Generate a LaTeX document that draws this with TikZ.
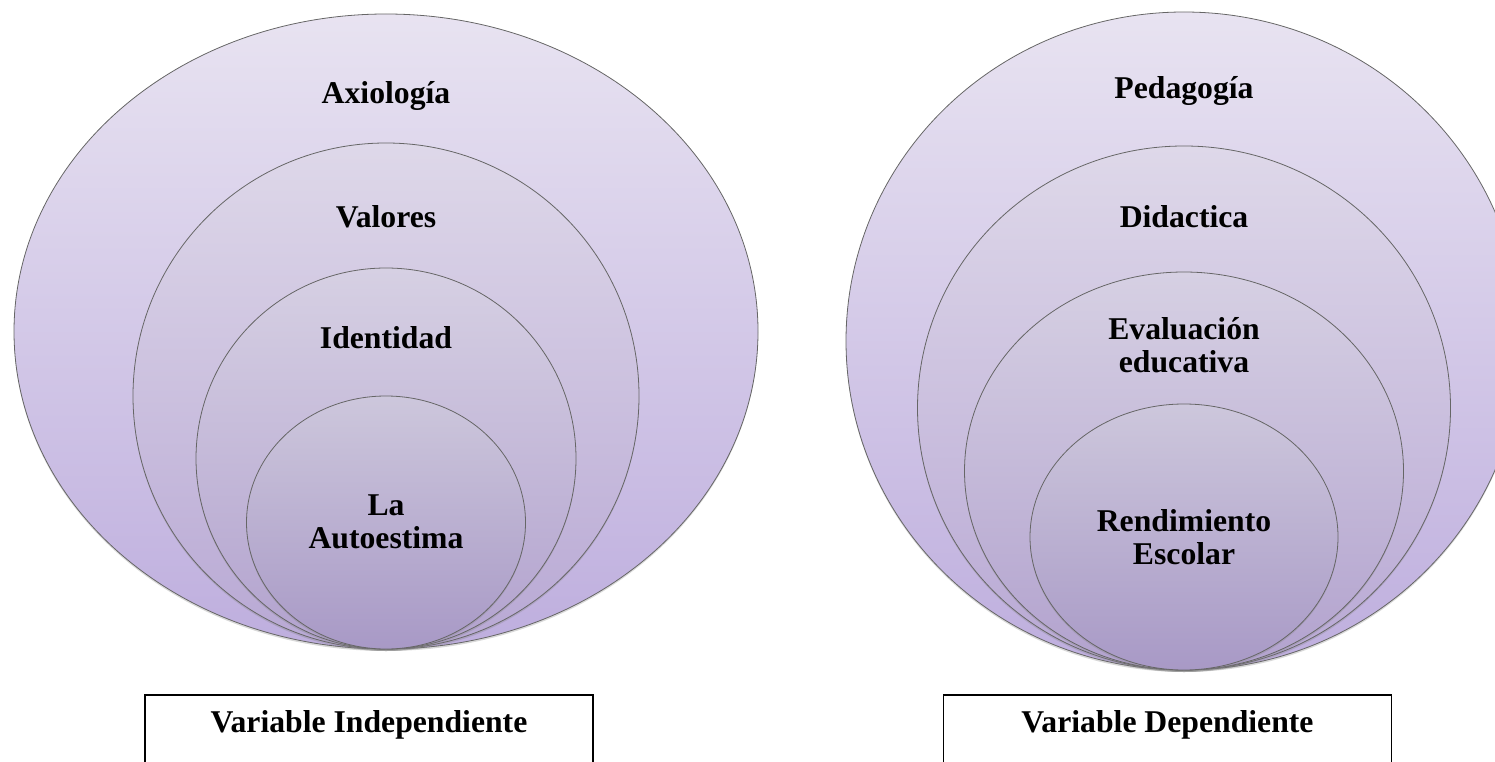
\documentclass[tikz,border=0pt]{standalone}
\usepackage{fontspec}
\setmainfont{Liberation Serif}
\usetikzlibrary{shapes.geometric,positioning,shadows}

\definecolor{ringAtop}{RGB}{232,227,241}
\definecolor{ringAbot}{RGB}{190,174,222}
\definecolor{ringBtop}{RGB}{222,216,233}
\definecolor{ringBbot}{RGB}{184,168,212}
\definecolor{ringCtop}{RGB}{214,208,227}
\definecolor{ringCbot}{RGB}{178,162,206}
\definecolor{ringDtop}{RGB}{205,199,220}
\definecolor{ringDbot}{RGB}{168,153,198}

\begin{document}
\begin{tikzpicture}[x=1pt,y=-1pt,
    ring/.style={ellipse,draw=black!60,line width=0.8pt,anchor=south,inner sep=0pt,outer sep=0pt,
                 drop shadow={shadow xshift=0pt,shadow yshift=-2pt,opacity=.3}},
    ringA/.style={ring,top color=ringAtop,bottom color=ringAbot},
    ringB/.style={ring,top color=ringBtop,bottom color=ringBbot},
    ringC/.style={ring,top color=ringCtop,bottom color=ringCbot},
    ringD/.style={ring,top color=ringDtop,bottom color=ringDbot},
    lbl/.style={font=\fontsize{31.7}{33}\selectfont\bfseries,align=center,anchor=base,inner sep=0pt},
    varbox/.style={draw,line width=1.6pt,minimum width=448pt,minimum height=100pt,anchor=north,inner sep=0pt}]

  \useasboundingbox (0,0) rectangle (1495,762);
  \clip (0,0) rectangle (1495,762);

  \coordinate (bl) at (386,649);
  \coordinate (br) at (1184,670);

  % independiente
  \node[ringA,minimum width=744pt,minimum height=635pt] (1) at (bl) {};
  \node[ringB,minimum width=506pt,minimum height=506pt] (2) at (bl) {};
  \node[ringC,minimum width=380pt,minimum height=381pt] (3) at (bl) {};
  \node[ringD,minimum width=279pt,minimum height=253pt] (4) at (bl) {};

  \node[lbl] (l1) at ([yshift=-90pt]1.north) {Axiología};
  \node[lbl] (l2) at ([yshift=-84pt]2.north) {Valores};
  \node[lbl] (l3) at ([yshift=-80pt]3.north) {Identidad};
  \node[lbl] (l4) at ([yshift=-152pt]4.north) {La\\Autoestima};

  % dependiente
  \node[ringA,minimum width=676pt,minimum height=658pt] (5) at (br) {};
  \node[ringB,minimum width=533pt,minimum height=524pt] (6) at (br) {};
  \node[ringC,minimum width=439pt,minimum height=398pt] (7) at (br) {};
  \node[ringD,minimum width=308pt,minimum height=266pt] (8) at (br) {};

  \node[lbl] (l5) at ([yshift=-87pt]5.north) {Pedagogía};
  \node[lbl] (l6) at ([yshift=-81pt]6.north) {Didactica};
  \node[lbl] (l7) at ([yshift=-100pt]7.north) {Evaluación\\educativa};
  \node[lbl] (l8) at ([yshift=-160pt]8.north) {Rendimiento\\Escolar};

  \node[varbox] (v1) at (369,694) {};
  \node[varbox] (v2) at (1167.5,694) {};
  \node[lbl] (vt1) at ([yshift=-38pt]v1.north) {Variable Independiente};
  \node[lbl] (vt2) at ([yshift=-38pt]v2.north) {Variable Dependiente};
\end{tikzpicture}
\end{document}
